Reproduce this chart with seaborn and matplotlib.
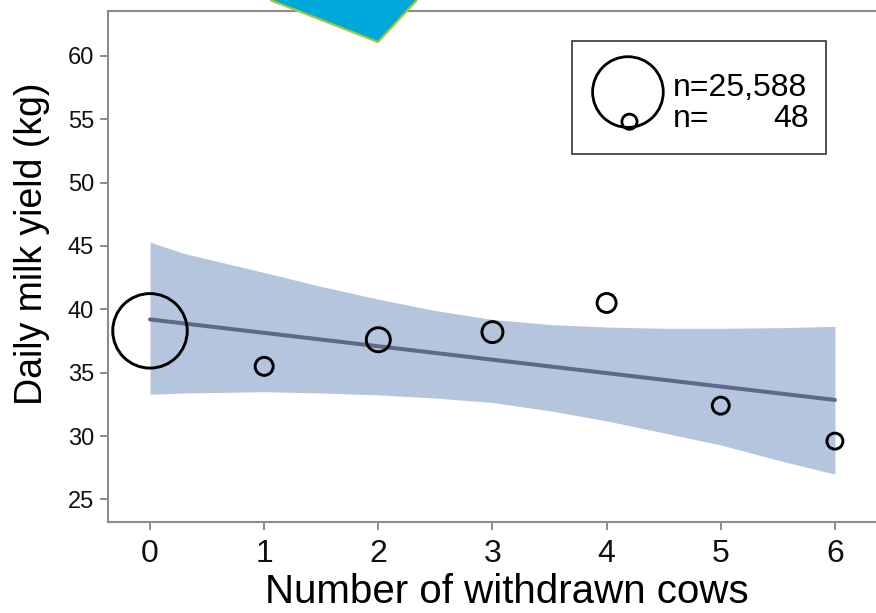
import numpy as np
import matplotlib
matplotlib.use("Agg")
import matplotlib.pyplot as plt
from matplotlib.patches import Polygon, Rectangle
import seaborn as sns
import pandas as pd

# ============================================================
# Data
# ============================================================

withdrawn = [0, 1, 2, 3, 4, 5, 6]
milk_yield = [38.3, 35.5, 37.6, 38.2, 40.5, 32.4, 29.6]
n_cows = [25588, 78, 252, 145, 97, 61, 48]

fit_x = [0, 6]
fit_y = [39.2, 32.85]

band_x = [0, 0.3, 1, 1.5, 2, 2.5, 3, 3.5, 4, 4.5, 5, 5.5, 6]
band_upper = [45.3, 44.4, 42.9, 41.8, 40.8, 39.9, 39.2, 38.8, 38.6, 38.5, 38.5, 38.55, 38.65]
band_lower = [33.3, 33.4, 33.5, 33.4, 33.25, 33.0, 32.65, 32.0, 31.2, 30.25, 29.3, 28.1, 27.0]

legend_n = [25588, 48]

df = pd.DataFrame({"withdrawn": withdrawn, "milk": milk_yield, "n": n_cows})

# ============================================================
# Style
# ============================================================

sns.set_style("ticks")
plt.rcParams["font.family"] = ["Liberation Sans", "DejaVu Sans"]
plt.rcParams["text.color"] = "black"
plt.rcParams["axes.labelcolor"] = "black"

spine_col = "#8c8c8c"
band_col = "#b5c5dd"
line_col = "#5d6986"


def radius_px(n):
    # marker radius (pixels) grows with the group size
    return 8 * (n / 48) ** 0.245


def area_pt(n):
    d = 2 * radius_px(n) * 0.72
    return d ** 2


fig = plt.figure(figsize=(8.76, 6.13), dpi=100)
ax = fig.add_axes([108 / 876, (613 - 522.3) / 613, 1 - 108 / 876, (522.3 - 10.7) / 613])

# ============================================================
# Confidence band and fitted line
# ============================================================

ax.fill_between(band_x, band_lower, band_upper, color=band_col, lw=0, zorder=1)

sns.lineplot(x=fit_x, y=fit_y, ax=ax, color=line_col, lw=2.9, zorder=2)

# ============================================================
# Bubbles
# ============================================================

sizes = {n: area_pt(n) for n in n_cows}
sns.scatterplot(
    data=df,
    x="withdrawn",
    y="milk",
    size="n",
    sizes=sizes,
    legend=False,
    facecolor="none",
    edgecolor="black",
    linewidth=2.1,
    ax=ax,
    zorder=3,
)

# ============================================================
# Axes
# ============================================================

ax.set_xlim(-0.368, 6.36)
ax.set_ylim(23.2, 63.55)
ax.set_xticks(range(0, 7))
ax.set_yticks(range(25, 61, 5))

for side in ["left", "bottom", "top"]:
    ax.spines[side].set_color(spine_col)
    ax.spines[side].set_linewidth(1.5)
ax.spines["right"].set_visible(False)

ax.tick_params(axis="both", colors=spine_col, length=6, width=1.4, labelcolor="#111111")
ax.tick_params(axis="x", labelsize=23, pad=6)
ax.tick_params(axis="y", labelsize=17, pad=4)

ax.set_xlabel("Number of withdrawn cows", fontsize=29)
ax.set_ylabel("Daily milk yield (kg)", fontsize=27)
ax.xaxis.set_label_coords(0.52, -0.1)
ax.yaxis.set_label_coords(-0.076, 0.545)

# ============================================================
# Size legend box
# ============================================================

ax.add_patch(Rectangle((0.604, 0.72), 0.331, 0.221, transform=ax.transAxes,
                       facecolor="white", edgecolor="#333333", lw=1.2, zorder=5))

ax.scatter([0.677, 0.679], [0.841, 0.783], s=[area_pt(v) * 0.9 for v in legend_n],
           transform=ax.transAxes, facecolors="none", edgecolors="black",
           linewidths=2.0, zorder=6, clip_on=False)

ax.text(0.736, 0.833, "n=25,588", transform=ax.transAxes, fontsize=23,
        ha="left", va="baseline", zorder=6)
ax.text(0.736, 0.773, "n=", transform=ax.transAxes, fontsize=23,
        ha="left", va="baseline", zorder=6)
ax.text(0.912, 0.773, "48", transform=ax.transAxes, fontsize=23,
        ha="right", va="baseline", zorder=6)

# ============================================================
# Cyan shape overlapping the top of the frame
# ============================================================

shape = Polygon([(270 / 876, 1.0), (378 / 876, 1 - 42 / 613), (417 / 876, 1.0)],
                closed=False, transform=fig.transFigure,
                facecolor="#00a9dc", edgecolor="#a4c639", lw=1.6, zorder=10)
fig.patches.append(shape)

plt.savefig("out.png", dpi=100)
